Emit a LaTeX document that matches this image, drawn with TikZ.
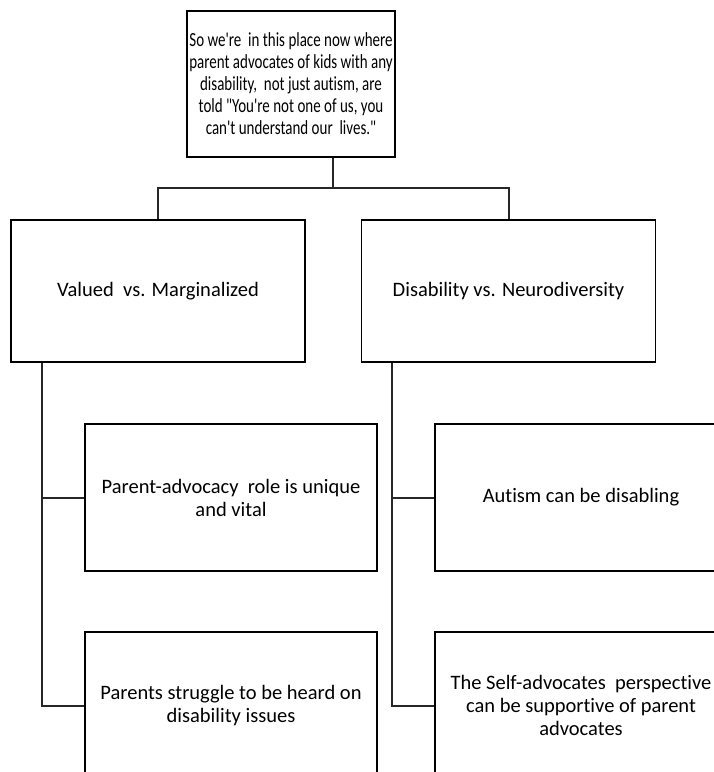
\documentclass[tikz,border=0pt]{standalone}
\usepackage{fontspec}
\newfontfamily\calib[Ligatures=NoCommon]{Carlito}
\newfontfamily\calibnarrow[FakeStretch=0.75,Ligatures=NoCommon]{Carlito}
\begin{document}
\begin{tikzpicture}[x=1pt,y=-1pt,
  box/.style={draw=black,line width=1.4pt,fill=white,inner sep=2pt,align=center,
    font=\calib\fontsize{20.5}{23}\selectfont},
  topbox/.style={box,minimum width=208pt,minimum height=146pt,
    font=\calibnarrow\fontsize{20}{22}\selectfont},
  midbox/.style={box,minimum width=294pt,minimum height=142pt},
  kidbox/.style={box,minimum width=292pt,minimum height=147pt},
  conn/.style={draw=black!85,line width=2pt}]
\useasboundingbox (0,0) rectangle (714,772);
\node[topbox] (top) at (291,84) {So we're\ \ in this place now where\\parent advocates of kids with any\\disability,\ \ not just autism, are\\told "You're not one of us, you\\can't understand our\ \ lives."};
\node[midbox] (left) at (158,291) {Valued\ \ vs. Marginalized};
\node[midbox] (right) at (508.5,291) {Disability vs. Neurodiversity};
\node[kidbox] (cl1) at (231,497.5) {Parent-advocacy\ \ role is unique\\and vital};
\node[kidbox] (cl2) at (231,705.5) {Parents struggle to be heard on\\disability issues};
\node[kidbox] (cr1) at (581,497.5) {Autism can be disabling};
\node[kidbox] (cr2) at (581,705.5) {The Self-advocates\ \ perspective\\can be supportive of parent\\advocates};
\coordinate (j) at (333,188);
\coordinate (ls) at (42,705.5);
\coordinate (rs) at (392,705.5);
\draw[conn] (top.south -| j) -- (j);
\draw[conn] (left.north) |- (j) -| (right.north);
\draw[conn] (left.south -| ls) |- (cl2.west);
\draw[conn] (cl1.west -| ls) -- (cl1.west);
\draw[conn] (right.south -| rs) |- (cr2.west);
\draw[conn] (cr1.west -| rs) -- (cr1.west);
\end{tikzpicture}
\end{document}
